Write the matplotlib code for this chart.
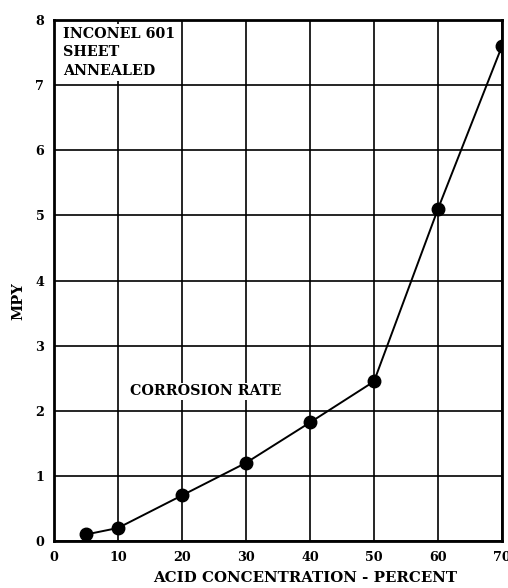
import numpy as np
import matplotlib
matplotlib.use('Agg')
from matplotlib import pyplot as plt

# corrosion rate readings
acidPercent = [5, 10, 20, 30, 40, 50, 60, 70]
corrosionMpy = [0.1, 0.2, 0.7, 1.2, 1.82, 2.45, 5.1, 7.6]
xTicks = [0, 10, 20, 30, 40, 50, 60, 70]
yTicks = [0, 1, 2, 3, 4, 5, 6, 7, 8]

plt.rcParams['font.family'] = ['DejaVu Serif']

fig = plt.figure(figsize=(5.08, 5.88), dpi=100, facecolor='white')
ax = fig.add_axes([54 / 508., 47 / 588., 448 / 508., 521 / 588.])

ax.plot(acidPercent, corrosionMpy, color='black', linewidth=1.4,
        marker='o', markersize=9, zorder=3)

ax.set_xlim(0, 70)
ax.set_ylim(0, 8)
ax.set_xticks(xTicks)
ax.set_yticks(yTicks)
ax.tick_params(length=0, labelsize=9.2, pad=7)
for lab in ax.get_xticklabels() + ax.get_yticklabels():
    lab.set_fontweight('bold')
ax.grid(True, color='black', linewidth=1.2)
ax.set_axisbelow(True)
for sp in ax.spines.values():
    sp.set_linewidth(2.0)

ax.set_xlabel('ACID CONCENTRATION - PERCENT', fontsize=10.8,
              fontweight='bold')
# labels sit off the axes centre in the original scan
ax.xaxis.set_label_coords((305 - 54) / 448., -0.058)
ax.set_ylabel('MPY', fontsize=10.5, fontweight='bold')
ax.yaxis.set_label_coords(-(54 - 25) / 448., 0.46)

ax.text(1.4, 7.9, 'INCONEL 601\nSHEET\nANNEALED', fontsize=10.3,
        fontweight='bold', va='top', ha='left', linespacing=1.45,
        bbox=dict(facecolor='white', edgecolor='none', pad=1.5), zorder=4)
ax.text(11.8, 2.3, 'CORROSION RATE', fontsize=10.3, fontweight='bold',
        va='center', ha='left',
        bbox=dict(facecolor='white', edgecolor='none', pad=1.0), zorder=4)

fig.savefig('out.png', dpi=100, facecolor='white')
